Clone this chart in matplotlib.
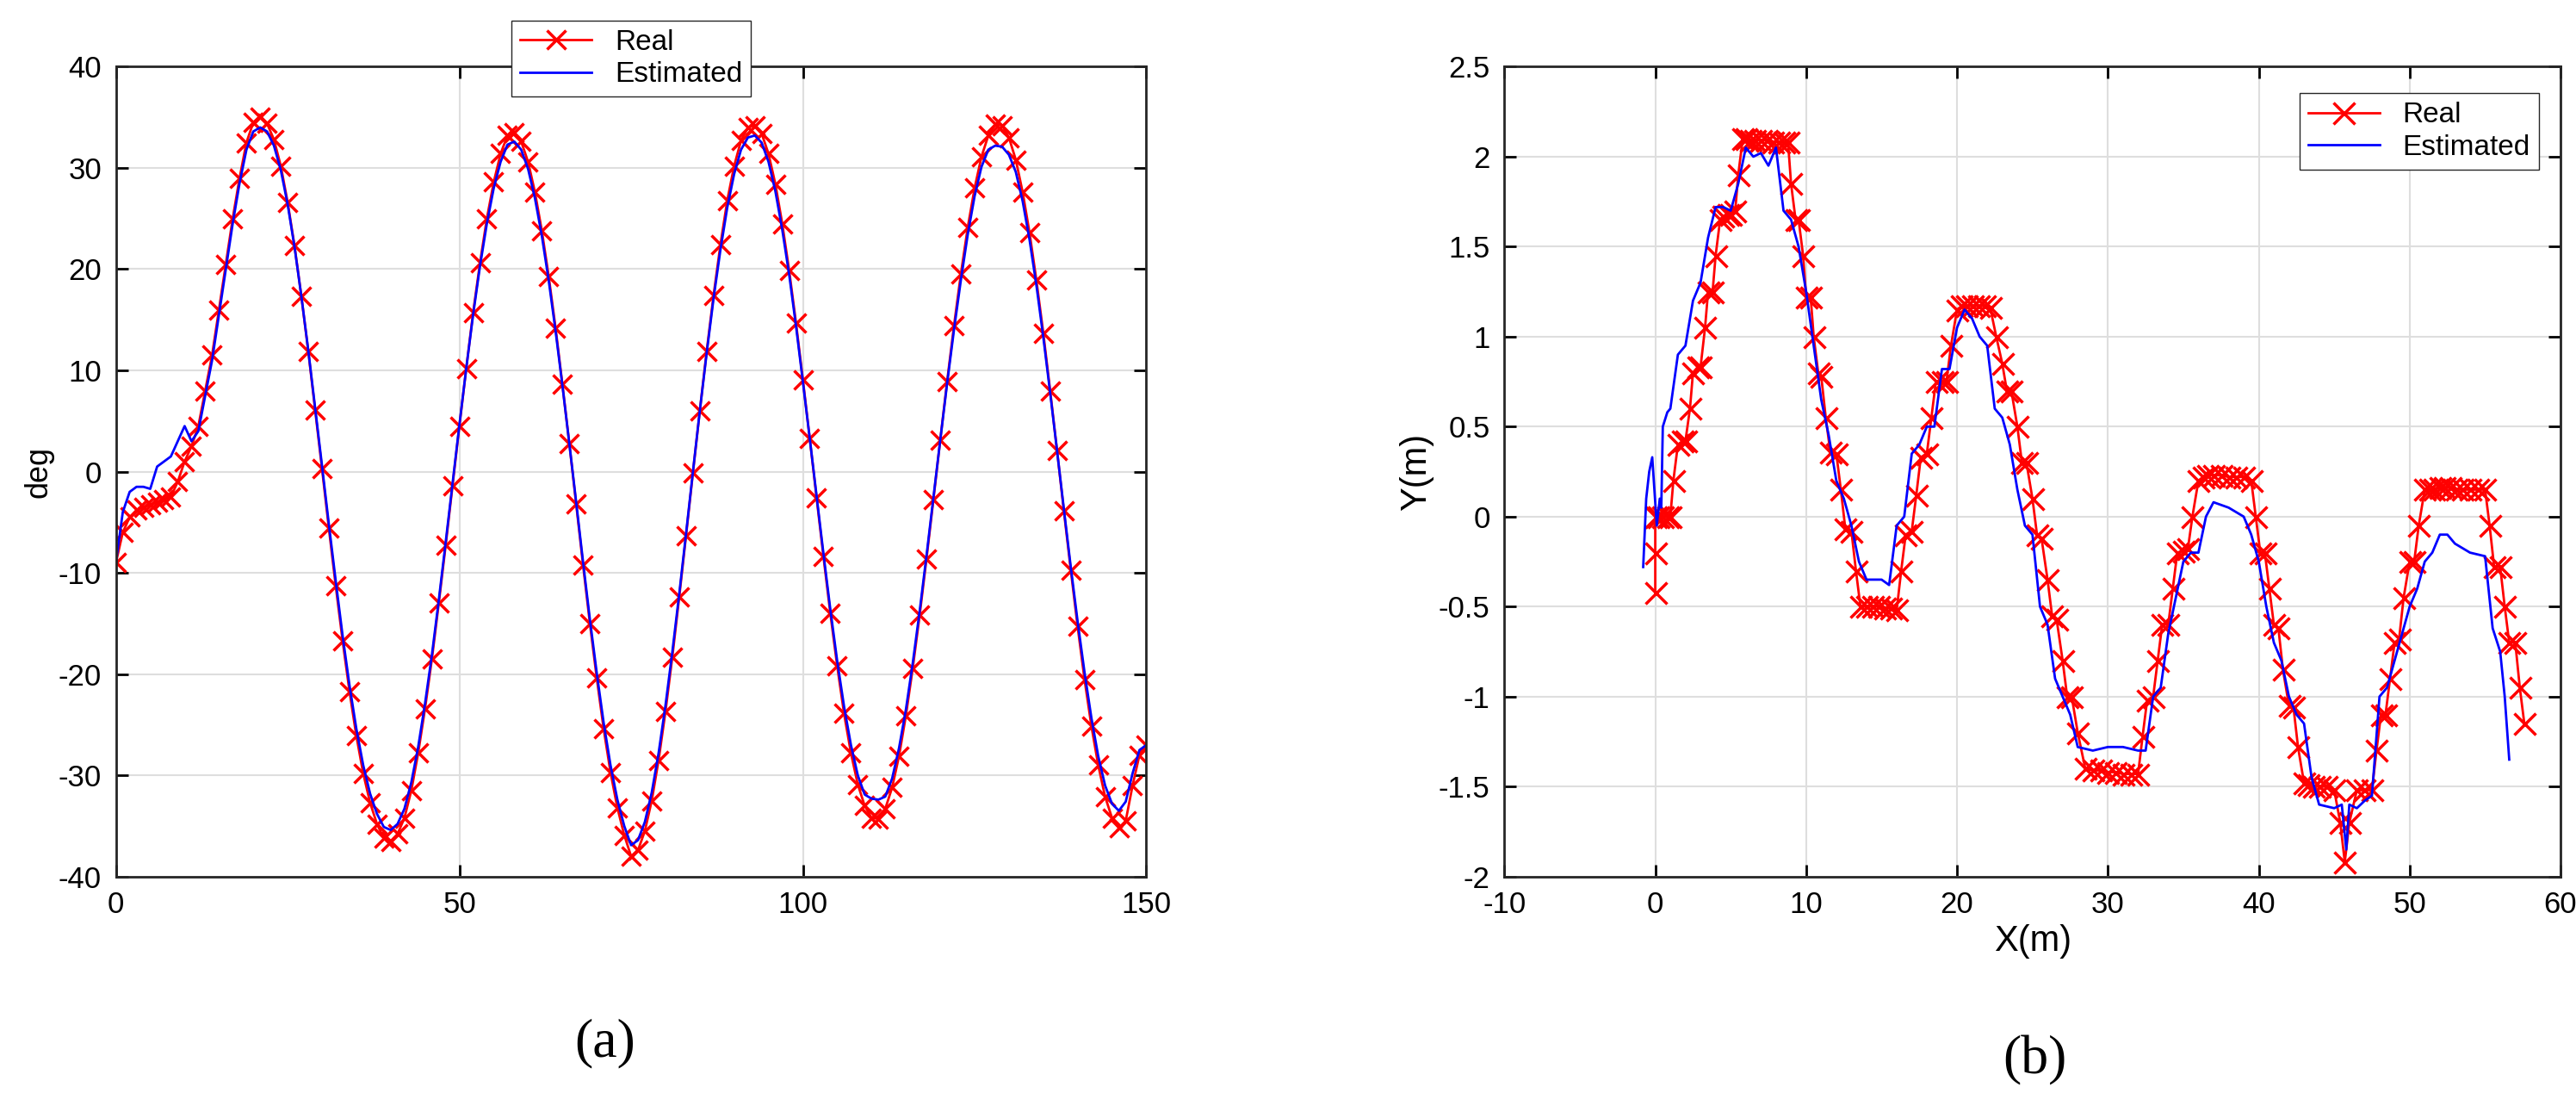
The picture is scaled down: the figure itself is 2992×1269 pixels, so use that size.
import matplotlib
matplotlib.use("Agg")
import matplotlib.pyplot as plt
import numpy as np

plt.rcParams['font.family'] = ['Liberation Sans', 'DejaVu Sans']
plt.rcParams['axes.unicode_minus'] = False

# ---- panel (a): heading angle (deg) vs time ----
t_a = list(range(0, 151))
real_a = [-9, -6, -4.5, -3.8, -3.5, -3.3, -3, -2.8, -2.5, -1, 1, 2.5, 4.5, 8, 11.5, 16, 20.5, 25, 29, 32.5,
          34.5, 35, 34.4, 32.8, 30.2, 26.6, 22.3, 17.3, 11.9, 6.1, 0.3, -5.6, -11.3, -16.7, -21.7, -26.1, -29.8, -32.7, -34.8, -36.2,
          -36.5, -35.8, -34.2, -31.5, -27.8, -23.4, -18.5, -13, -7.3, -1.4, 4.5, 10.2, 15.7, 20.6, 25, 28.6, 31.4, 33.2, 33.5, 32.6,
          30.6, 27.6, 23.8, 19.3, 14.2, 8.6, 2.8, -3.2, -9.2, -15, -20.4, -25.4, -29.7, -33.2, -35.9, -38, -37.4, -35.5, -32.5, -28.5,
          -23.7, -18.3, -12.4, -6.3, -0.1, 6, 11.9, 17.4, 22.4, 26.8, 30.2, 32.7, 34, 34.2, 33.4, 31.4, 28.4, 24.5, 19.9, 14.7,
          9.1, 3.3, -2.6, -8.4, -14, -19.2, -23.9, -27.8, -30.9, -33, -34.2, -34.3, -33.3, -31.2, -28.1, -24.1, -19.4, -14.2, -8.6, -2.8,
          3.1, 8.9, 14.4, 19.5, 24.1, 28, 31.1, 33.2, 34.3, 34.2, 33, 30.8, 27.6, 23.6, 18.9, 13.7, 8, 2.1, -3.9, -9.7,
          -15.3, -20.5, -25.1, -29, -32.1, -34.2, -35.2, -34.5, -31, -28, -27]
est_a = [-9, -4, -2, -1.5, -1.5, -1.7, 0.5, 1, 1.5, 3, 4.5, 3, 4, 7.5, 11, 15.5, 20, 24.5, 28.5, 31.8,
         33.6, 34, 33.6, 32.2, 29.8, 26.4, 22.2, 17.3, 12, 6.3, 0.6, -5.2, -10.8, -16.2, -21.1, -25.4, -29, -31.8, -33.8, -35.1,
         -35.4, -34.8, -33.3, -30.7, -27.2, -22.9, -18.1, -12.7, -7, -1.2, 4.6, 10.2, 15.5, 20.3, 24.5, 28, 30.6, 32.3, 32.6, 31.8,
         29.9, 27, 23.3, 18.9, 13.9, 8.5, 2.8, -3, -8.9, -14.6, -19.9, -24.8, -29, -32.4, -35, -36.9, -36.4, -34.6, -31.7, -27.8,
         -23.1, -17.8, -12.1, -6.1, 0, 6, 11.7, 17.1, 21.9, 26.1, 29.4, 31.8, 33, 33.2, 32.5, 30.6, 27.7, 23.9, 19.5, 14.4,
         8.9, 3.3, -2.4, -8.1, -13.6, -18.7, -23.2, -27, -30, -31.9, -32.3, -32.4, -32.1, -30.3, -27.3, -23.5, -18.9, -13.8, -8.3, -2.6,
         3.1, 8.7, 14, 18.9, 23.4, 27.2, 30.1, 31.8, 32.2, 32.1, 31.3, 29.6, 26.7, 22.9, 18.4, 13.3, 7.8, 2.1, -3.7, -9.4,
         -14.8, -19.8, -24.3, -28.1, -31, -32.8, -33.5, -32.6, -29.8, -27.5, -27]

# ---- panel (b): trajectory Y vs X (m) ----
real_x = [0, 0, 0, 0.2, 0.5, 0.8, 1.0, 1.2, 1.5, 1.8, 2.0, 2.3, 2.5, 2.8, 3.0, 3.3, 3.5, 3.8, 4.0, 4.3, 4.5, 4.8, 5.0, 5.3, 5.5,
          5.8, 6.0, 6.3, 6.6, 7.0, 7.4, 7.8, 8.2, 8.5, 8.8, 9.0, 9.3, 9.5, 9.8, 10.0, 10.3, 10.5, 10.8, 11.0, 11.3, 11.6, 12.0, 12.3, 12.6, 13.0,
          13.3, 13.6, 14.0, 14.4, 14.8, 15.2, 15.6, 16.0, 16.3, 16.6, 17.0, 17.3, 17.6, 18.0, 18.3, 18.6, 19.0, 19.3, 19.6, 20.0, 20.3, 20.6,
          21.0, 21.4, 21.8, 22.2, 22.6, 23.0, 23.3, 23.6, 24.0, 24.3, 24.6, 25.0, 25.3, 25.6, 26.0, 26.3, 26.6, 27.0, 27.3, 27.6, 28.0,
          28.5, 29.0, 29.5, 30.0, 30.5, 31.0, 31.5, 32.0, 32.3, 32.6, 33.0, 33.3, 33.6, 34.0, 34.3, 34.6, 35.0, 35.3, 35.6, 36.0, 36.3,
          36.6, 37.0, 37.5, 38.0, 38.5, 39.0, 39.5, 39.8, 40.1, 40.4, 40.7, 41.0, 41.3, 41.6, 42.0, 42.3, 42.6, 43.0, 43.3, 43.6, 44.0,
          44.5, 45.0, 45.4, 45.7, 46.0, 46.5, 47.0, 47.5, 47.8, 48.1, 48.4, 48.7, 49.0, 49.3, 49.6, 50.0, 50.3, 50.6, 51.0, 51.3, 51.6,
          52.0, 52.3, 52.7, 53.1, 53.5, 54.0, 54.5, 55.0, 55.3, 55.6, 56.0, 56.3, 56.6, 57.0, 57.3, 57.6]
real_y = [-0.42, -0.2, 0.0, 0.0, 0.0, 0.0, 0.0, 0.2, 0.4, 0.42, 0.42, 0.6, 0.8, 0.83, 0.83, 1.05, 1.25, 1.25, 1.45, 1.65, 1.67, 1.68, 1.68, 1.7, 1.9,
          2.1, 2.1, 2.09, 2.09, 2.09, 2.09, 2.08, 2.08, 2.08, 2.08, 1.85, 1.65, 1.65, 1.45, 1.22, 1.22, 1.0, 0.8, 0.78, 0.55, 0.36, 0.35, 0.15, -0.07, -0.08,
          -0.3, -0.5, -0.5, -0.5, -0.5, -0.51, -0.51, -0.52, -0.3, -0.1, -0.08, 0.12, 0.33, 0.35, 0.55, 0.75, 0.75, 0.75, 0.95, 1.15, 1.17, 1.17,
          1.17, 1.17, 1.17, 1.16, 1.0, 0.85, 0.7, 0.7, 0.5, 0.3, 0.3, 0.1, -0.1, -0.12, -0.35, -0.55, -0.57, -0.8, -1.0, -1.0, -1.2,
          -1.4, -1.41, -1.41, -1.42, -1.42, -1.43, -1.43, -1.43, -1.22, -1.02, -1.0, -0.8, -0.6, -0.6, -0.4, -0.2, -0.19, -0.18, 0.0, 0.2, 0.22,
          0.23, 0.23, 0.23, 0.22, 0.22, 0.22, 0.2, 0.0, -0.2, -0.2, -0.4, -0.6, -0.62, -0.85, -1.05, -1.06, -1.28, -1.48, -1.49, -1.5, -1.5,
          -1.5, -1.52, -1.7, -1.92, -1.7, -1.52, -1.52, -1.52, -1.3, -1.1, -1.1, -0.9, -0.7, -0.68, -0.45, -0.25, -0.25, -0.05, 0.15, 0.15, 0.15,
          0.16, 0.16, 0.16, 0.15, 0.15, 0.15, 0.15, 0.15, -0.05, -0.28, -0.28, -0.5, -0.7, -0.7, -0.95, -1.15]
est_x = [-0.8, -0.6, -0.4, -0.2, 0.1, 0.3, 0.4, 0.5, 0.8, 1.0, 1.5, 2.0, 2.5, 3.0, 3.5, 4.0, 4.5, 5.0, 5.5, 6.0, 6.5, 7.0, 7.5, 8.0,
         8.5, 9.0, 9.5, 10.0, 10.5, 11.0, 11.5, 12.0, 12.5, 13.0, 13.5, 14.0, 15.0, 15.5, 16.0, 16.5, 17.0, 17.5, 18.0, 18.5, 19.0, 19.5,
         20.0, 20.5, 21.0, 21.5, 22.0, 22.5, 23.0, 23.5, 24.0, 24.5, 25.0, 25.5, 26.0, 26.5, 27.0, 27.5, 28.0, 29.0, 30.0, 31.0, 32.0,
         32.5, 33.0, 33.5, 34.0, 34.5, 35.0, 35.5, 36.0, 36.5, 37.0, 38.0, 39.0, 39.5, 40.0, 40.5, 41.0, 41.5, 42.0, 42.5, 43.0, 43.5,
         44.0, 45.0, 45.5, 45.8, 46.0, 46.5, 47.0, 47.5, 48.0, 48.5, 49.0, 49.5, 50.0, 50.5, 51.0, 51.5, 52.0, 52.5, 53.0, 54.0, 55.0,
         55.5, 56.0, 56.3, 56.6]
est_y = [-0.28, 0.1, 0.25, 0.33, -0.05, 0.1, 0.05, 0.5, 0.58, 0.6, 0.9, 0.95, 1.2, 1.3, 1.55, 1.72, 1.72, 1.7, 1.85, 2.05, 2.0, 2.02, 1.95, 2.05,
         1.7, 1.65, 1.5, 1.25, 0.95, 0.65, 0.45, 0.2, 0.1, -0.05, -0.25, -0.35, -0.35, -0.38, -0.05, 0.0, 0.35, 0.4, 0.5, 0.5, 0.82, 0.82,
         1.05, 1.15, 1.1, 1.0, 0.95, 0.6, 0.55, 0.4, 0.15, -0.05, -0.1, -0.5, -0.6, -0.9, -1.0, -1.1, -1.28, -1.3, -1.28, -1.28, -1.3,
         -1.3, -1.0, -0.95, -0.65, -0.45, -0.25, -0.2, -0.2, 0.0, 0.08, 0.05, 0.0, -0.1, -0.25, -0.5, -0.7, -0.8, -1.0, -1.1, -1.15, -1.45,
         -1.6, -1.62, -1.6, -1.85, -1.6, -1.62, -1.58, -1.55, -1.0, -0.95, -0.8, -0.65, -0.5, -0.4, -0.25, -0.2, -0.1, -0.1, -0.15, -0.2, -0.22,
         -0.62, -0.75, -1.0, -1.35]

fig = plt.figure(figsize=(29.92, 12.69), dpi=100)

tick_fs = 25
def style(ax):
    ax.grid(True, color='#dedede', linewidth=1.5)
    ax.set_axisbelow(True)
    ax.tick_params(labelsize=tick_fs, direction='in', length=10, width=2, top=True, right=True, pad=12)
    for s in ax.spines.values():
        s.set_linewidth(2)
        s.set_color('#262626')

ax1 = fig.add_axes([0.045, 0.198, 0.40, 0.741])
ax1.plot(t_a, real_a, color='red', marker='x', markersize=16, markeredgewidth=2.5, linewidth=2, label='Real')
ax1.plot(t_a, est_a, color='blue', linewidth=2, label='Estimated')
ax1.set_xlim(0, 150)
ax1.set_ylim(-40, 40)
ax1.set_xticks([0, 50, 100, 150])
ax1.set_yticks(range(-40, 41, 10))
ax1.set_ylabel('deg', fontsize=26)
style(ax1)
ax1.legend(loc='upper center', bbox_to_anchor=(0.5, 1.075), fontsize=24, frameon=True, fancybox=False,
           edgecolor='#262626', framealpha=1, handlelength=2.5, borderpad=0.3, labelspacing=0.2)

ax2 = fig.add_axes([0.584, 0.198, 0.41, 0.741])
ax2.plot(real_x, real_y, color='red', marker='x', markersize=18, markeredgewidth=2.5, linewidth=2, label='Real')
ax2.plot(est_x, est_y, color='blue', linewidth=2, label='Estimated')
ax2.set_xlim(-10, 60)
ax2.set_ylim(-2, 2.5)
ax2.set_xticks(range(-10, 61, 10))
ax2.set_yticks(np.arange(-2, 2.51, 0.5))
ax2.set_yticklabels(['-2', '-1.5', '-1', '-0.5', '0', '0.5', '1', '1.5', '2', '2.5'])
ax2.set_xlabel('X(m)', fontsize=30, labelpad=4)
ax2.set_ylabel('Y(m)', fontsize=30)
style(ax2)
ax2.legend(loc='upper right', bbox_to_anchor=(0.993, 0.985), fontsize=24, frameon=True, fancybox=False,
           edgecolor='#262626', framealpha=1, handlelength=2.5, borderpad=0.3, labelspacing=0.2)

fig.text(0.235, 0.045, '(a)', fontsize=46, family='Liberation Serif', ha='center', va='center')
fig.text(0.79, 0.03, '(b)', fontsize=46, family='Liberation Serif', ha='center', va='center')

fig.savefig('out.png', dpi=100)
